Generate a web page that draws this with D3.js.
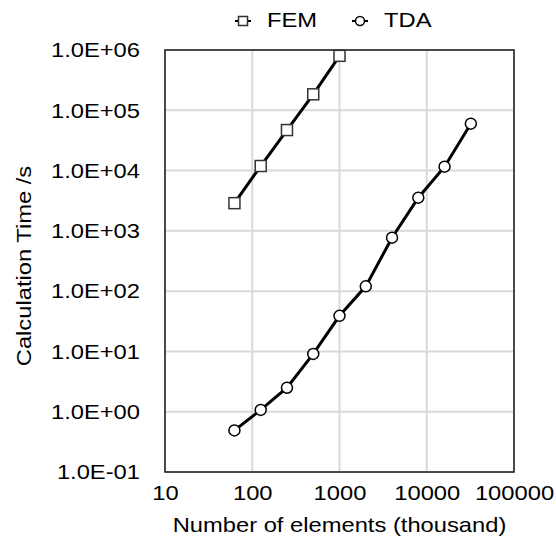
<!DOCTYPE html>
<html>
<head>
<meta charset="utf-8">
<script src="https://cdn.jsdelivr.net/npm/d3@7"></script>
<style>
  body { margin: 0; background: #fff; }
  text { font-family: "Liberation Sans", Arial, sans-serif; fill: #000; }
</style>
</head>
<body>
<div id="chart"></div>
<script>
// Data (x in thousand elements, y in seconds)
const femElements = [62.5, 125, 250, 500, 1000];
const femTime = [2880, 11900, 47000, 184000, 800000];
const tdaElements = [62.5, 125, 250, 500, 1000, 2000, 4000, 8000, 16000, 32000];
const tdaTime = [0.49, 1.07, 2.5, 9.1, 39, 120, 770, 3550, 11600, 60000];
const xTicks = [10, 100, 1000, 10000, 100000];
const yTicks = [1e-1, 1, 10, 100, 1e3, 1e4, 1e5, 1e6];
const yTickLabels = ["1.0E-01", "1.0E+00", "1.0E+01", "1.0E+02", "1.0E+03", "1.0E+04", "1.0E+05", "1.0E+06"];

const W = 556, H = 539;
const margin = { left: 165, right: 42, top: 50, bottom: 67 };
const width = W - margin.left - margin.right;
const height = H - margin.top - margin.bottom;
const fontSize = "21px";

const svg = d3.select("#chart").append("svg")
    .attr("width", W)
    .attr("height", H);

const chart = svg.append("g")
    .attr("transform", "translate(" + margin.left + "," + margin.top + ")");

const x = d3.scaleLog().domain([10, 100000]).range([0, width]);
const y = d3.scaleLog().domain([0.1, 1e6]).range([height, 0]);

// grid
chart.append("g")
    .selectAll("line")
    .data(xTicks)
    .join("line")
    .attr("x1", d => x(d)).attr("x2", d => x(d))
    .attr("y1", 0).attr("y2", height)
    .attr("stroke", "#d9d9d9")
    .attr("stroke-width", 2);

chart.append("g")
    .selectAll("line")
    .data(yTicks)
    .join("line")
    .attr("x1", 0).attr("x2", width)
    .attr("y1", d => y(d)).attr("y2", d => y(d))
    .attr("stroke", "#d9d9d9")
    .attr("stroke-width", 2);

// frame
chart.append("rect")
    .attr("width", width)
    .attr("height", height)
    .attr("fill", "none")
    .attr("stroke", "#1a1a1a")
    .attr("stroke-width", 1.5);

// axes
const xAxis = d3.axisBottom(x)
    .tickValues(xTicks)
    .tickSize(0)
    .tickPadding(13)
    .tickFormat(d3.format("d"));
const gx = chart.append("g")
    .attr("transform", "translate(0," + height + ")")
    .call(xAxis);
gx.select(".domain").remove();
gx.attr("font-size", null).attr("font-family", null);
gx.selectAll("text").style("font-size", fontSize).attr("fill", "#000");

const yAxis = d3.axisLeft(y)
    .tickValues(yTicks)
    .tickSize(0)
    .tickPadding(25)
    .tickFormat((d, i) => yTickLabels[i]);
const gy = chart.append("g").call(yAxis);
gy.select(".domain").remove();
gy.attr("font-size", null).attr("font-family", null);
gy.selectAll("text").style("font-size", fontSize).attr("fill", "#000");

// axis titles
svg.append("text")
    .attr("x", margin.left + width / 2)
    .attr("y", 532)
    .attr("text-anchor", "middle")
    .style("font-size", fontSize)
    .text("Number of elements (thousand)");

svg.append("text")
    .attr("transform", "translate(31," + 266 + ") rotate(-90)")
    .attr("text-anchor", "middle")
    .style("font-size", fontSize)
    .text("Calculation Time /s");

// lines
const fem = femElements.map((e, i) => ({ x: e, y: femTime[i] }));
const tda = tdaElements.map((e, i) => ({ x: e, y: tdaTime[i] }));

const line = d3.line()
    .x(d => x(d.x))
    .y(d => y(d.y));

[fem, tda].forEach(s => {
    chart.append("path")
        .datum(s)
        .attr("fill", "none")
        .attr("stroke", "#000")
        .attr("stroke-width", 3)
        .attr("d", line);
});

// markers
chart.selectAll("rect.fem")
    .data(fem)
    .join("rect")
    .attr("class", "fem")
    .attr("x", d => x(d.x) - 5.5)
    .attr("y", d => y(d.y) - 5.5)
    .attr("width", 11)
    .attr("height", 11)
    .attr("fill", "#fff")
    .attr("stroke", "#333")
    .attr("stroke-width", 1.5);

chart.selectAll("circle.tda")
    .data(tda)
    .join("circle")
    .attr("class", "tda")
    .attr("cx", d => x(d.x))
    .attr("cy", d => y(d.y))
    .attr("r", 5.5)
    .attr("fill", "#fff")
    .attr("stroke", "#000")
    .attr("stroke-width", 1.5);

// legend
const legend = svg.append("g");
const lf = legend.append("g").attr("transform", "translate(243,21)");
lf.append("line").attr("x1", -8).attr("x2", 8).attr("stroke", "#000").attr("stroke-width", 2);
lf.append("rect").attr("x", -4.5).attr("y", -4.5).attr("width", 9).attr("height", 9)
    .attr("fill", "#fff").attr("stroke", "#333").attr("stroke-width", 1.5);
lf.append("text").attr("x", 24).attr("y", 6).style("font-size", fontSize).text("FEM");

const lt = legend.append("g").attr("transform", "translate(360,21)");
lt.append("line").attr("x1", -8).attr("x2", 8).attr("stroke", "#000").attr("stroke-width", 2);
lt.append("circle").attr("r", 4.5)
    .attr("fill", "#fff").attr("stroke", "#000").attr("stroke-width", 1.5);
lt.append("text").attr("x", 24).attr("y", 6).style("font-size", fontSize).text("TDA");

// the original font is a little wider than Liberation Sans, stretch glyphs
svg.selectAll("text").each(function () {
    const len = this.getComputedTextLength();
    d3.select(this)
        .attr("textLength", len * 1.13)
        .attr("lengthAdjust", "spacingAndGlyphs");
});
</script>
</body>
</html>
